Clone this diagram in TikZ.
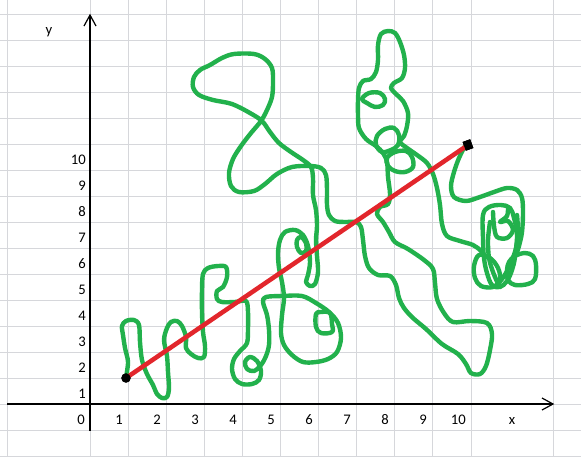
\documentclass[tikz,border=0pt]{standalone}
\usepackage{fontspec}
\setmainfont{Carlito}
\definecolor{gridc}{RGB}{214,215,219}
\definecolor{pgreen}{RGB}{34,177,76}
\definecolor{pred}{RGB}{226,38,44}
\begin{document}
\begin{tikzpicture}[x=0.75pt,y=-0.75pt,
  gridline/.style={draw=gridc,line width=0.75pt},
  axisline/.style={draw=black,line width=0.9pt},
  lab/.style={inner sep=0pt,font=\fontsize{11}{13}\selectfont},
  scribble/.style={draw=pgreen,line width=3.3pt,line cap=round,line join=round},
  redline/.style={draw=pred,line width=3.4pt,line cap=round},
  blackdot/.style={circle,fill=black,inner sep=0pt,minimum size=7pt}]
\useasboundingbox (0,0) rectangle (581,457);
\fill[white] (0,0) rectangle (581,457);
% grid
\foreach \y in {14,40,...,456} \draw[gridline] (0,\y) -- (581,\y);
\foreach \x in {7,90,128,166,204,242,280,318,356,394,432,471,553} \draw[gridline] (\x,0) -- (\x,457);
% axes
\coordinate (xs) at (7,404);
\coordinate (xe) at (553,404);
\coordinate (ys) at (90,431);
\coordinate (ye) at (90,15);
\draw[axisline] (xs) -- (xe);
\draw[axisline] (ys) -- (ye);
\draw[axisline] (542,398) -- (xe) -- (542,410);
\draw[axisline] (84,26) -- (ye) -- (96,26);
% labels
\node[lab,anchor=base] (ylab) at (49,34) {y};
\node[lab,anchor=base] (xlab) at (512,424) {x};
\node[lab,anchor=base east] (x0) at (85,424) {0};
\foreach \k/\xx in {1/123,2/161,3/199,4/237,5/275,6/313,7/351,8/389,9/427,10/466}
  \node[lab,anchor=base east] (xn\k) at (\xx,424) {\k};
\foreach \k in {1,...,10}
  \node[lab,anchor=base east] (yn\k) at (86,{424-26*\k}) {\k};
% green scribble
\draw[scribble] plot[smooth,tension=0.55] coordinates {
(126,377) (128,362) (125,348) (123,335) (122,326) (126,321) (134,320) (139,325) (140,342) (142,360) (147,374) (153,385) (157,394) (162,398) (167,397) (169,388) (168,372) (167,356) (164,340) (167,328) (171,322) (177,321) (182,326) (186,337) (186,348) (191,354) (198,358) (204,357) (205,346) (203,332) (202,312) (202,290) (203,274) (208,268) (218,266) (226,267) (227,277) (223,287) (217,291) (217,299) (222,302) (235,302) (246,301) (248,312) (248,328) (247,343) (240,351) (234,359) (232,369) (235,379) (242,384) (252,384) (259,380) (261,371) (257,361) (250,357) (245,362) (247,369) (254,371) (261,365) (266,356) (269,345) (269,330) (267,315) (263,302) (266,297) (282,296) (302,296) (316,303) (329,312) (338,323) (341,338) (337,352) (328,359) (316,362) (303,362) (292,355) (284,345) (281,333) (282,315) (284,298) (282,282) (279,268) (278,253) (280,240) (285,232) (295,230) (303,235) (308,246) (310,262) (308,275) (306,282) (310,286) (315,284) (318,272) (317,256) (316,240) (317,226) (316,210) (313,195) (313,178) (311,167) (303,160) (291,152) (279,143) (270,132) (262,121) (250,113) (232,104) (213,100) (199,95) (193,87) (194,77) (200,70) (210,65) (222,58) (234,54) (254,54) (265,59) (272,68) (273,82) (272,97) (267,110) (261,121) (251,133) (241,146) (233,159) (229,173) (231,186) (239,192) (254,191) (265,184) (277,174) (292,167) (310,166) (321,168) (326,175) (327,190) (327,205) (329,215) (335,221) (345,222) (356,222) (361,227) (363,240) (365,256) (369,268) (378,275) (390,276) (396,285) (399,298) (404,308) (413,318) (426,329) (442,344) (458,354) (466,364) (471,373) (480,374) (486,366) (490,350) (492,334) (487,323) (470,321) (453,322) (444,313) (437,299) (435,283) (433,269) (424,260) (408,249) (395,242) (389,232) (383,222) (377,214) (380,207) (388,204) (390,194) (388,177) (387,162) (383,153) (376,146) (366,139) (359,128) (358,115) (358,100) (359,88) (363,81) (371,79) (376,72) (378,60) (378,45) (381,34) (388,31) (395,33) (400,42) (404,55) (405,68) (402,78) (394,83) (391,88) (396,94) (403,101) (408,113) (407,126) (404,136) (400,142) (407,148) (417,155) (427,163) (433,174) (437,188) (440,205) (442,224) (447,236) (460,241) (473,245) (481,251) (485,258)};
% small loops of the upper cluster
\draw[scribble] plot[smooth cycle,tension=0.6] coordinates {(362,99) (369,93) (380,93) (385,99) (383,105) (375,107) (367,103)};
\draw[scribble] plot[smooth cycle,tension=0.6] coordinates {(376,145) (377,136) (385,129) (394,128) (399,135) (398,145) (391,150) (382,152)};
\draw[scribble] plot[smooth cycle,tension=0.6] coordinates {(387,158) (395,152) (406,151) (412,157) (413,167) (405,172) (395,171) (388,166)};
% small loops of the middle
\draw[scribble] plot[smooth cycle,tension=0.6] coordinates {(297,240) (301,237) (306,243) (306,251) (301,253) (297,247)};
\draw[scribble] plot[smooth cycle,tension=0.6] coordinates {(316,314) (321,312) (330,313) (332,324) (332,332) (321,333) (316,327)};
% right cluster
\draw[scribble] plot[smooth,tension=0.55] coordinates {(465,146) (459,158) (454,172) (451,186) (454,197) (466,201) (480,197) (494,192) (507,188) (517,190) (522,198) (523,213) (522,232) (519,246) (516,255)};
\draw[scribble] plot[smooth cycle,tension=0.6] coordinates {(483,215) (489,207) (501,205) (510,208) (514,218) (517,235) (515,257) (512,270) (507,281) (500,287) (492,285) (487,273) (484,258) (483,238)};
\draw[scribble] plot[smooth,tension=0.55] coordinates {(508,207) (507,216) (500,222) (508,221) (513,230) (507,238) (497,237) (494,226) (493,212)};
\draw[scribble] plot[smooth,tension=0.55] coordinates {(490,222) (488,240) (489,258) (493,272) (499,286)};
\draw[scribble] plot[smooth,tension=0.55] coordinates {(517,215) (518,232) (516,248) (512,260) (506,273) (499,283)};
\draw[scribble] plot[smooth cycle,tension=0.6] coordinates {(479,255) (490,258) (498,268) (500,280) (493,287) (481,286) (475,278) (474,266)};
\draw[scribble] plot[smooth cycle,tension=0.6] coordinates {(509,262) (515,256) (525,253) (533,256) (536,265) (535,279) (528,284) (515,285) (508,280) (507,270)};
% red segment and end points
\node[blackdot] (pa) at (126,378) {};
\node[blackdot,rectangle,minimum width=6pt,minimum height=7pt,rotate=20] (pb) at (468,145) {};
\draw[redline] (pa.center) -- (pb.center);
\node[blackdot] at (pa.center) {};
\node[blackdot,rectangle,minimum width=6pt,minimum height=7pt,rotate=20] at (pb.center) {};
\end{tikzpicture}
\end{document}
